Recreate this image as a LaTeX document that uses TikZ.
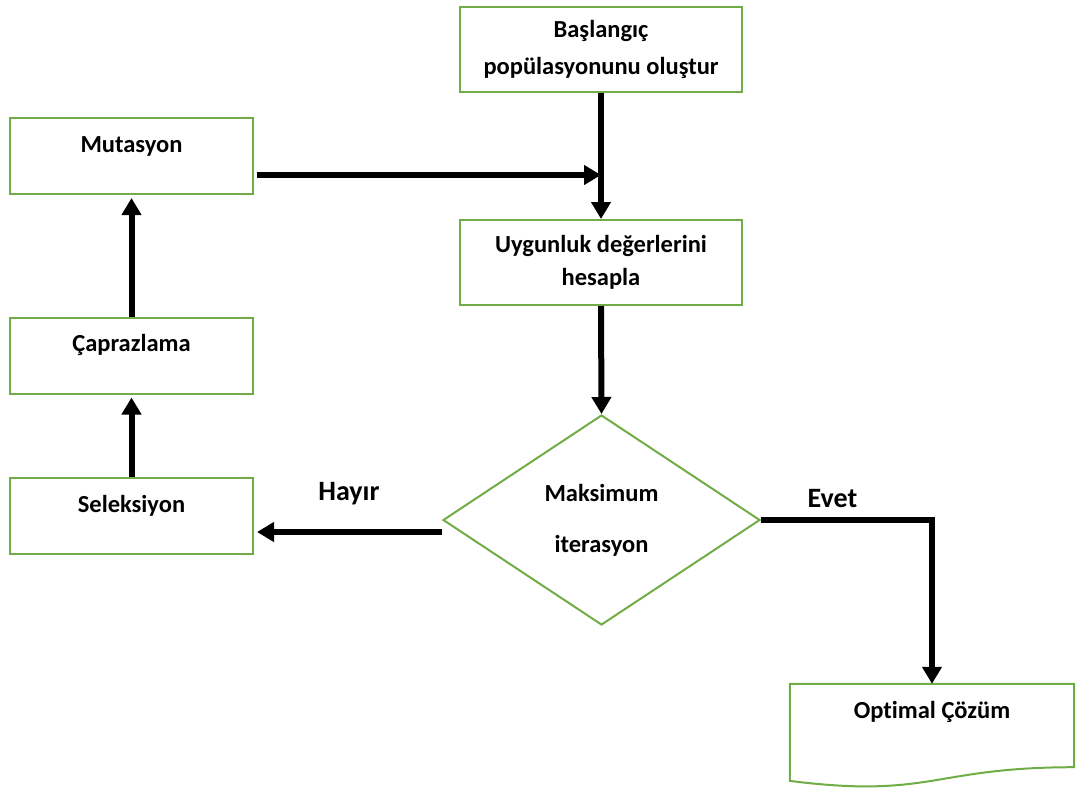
\documentclass[tikz,border=0pt]{standalone}
\usepackage{fontspec}
\setmainfont{Carlito}[Ligatures=NoCommon]
\usetikzlibrary{shapes.geometric,arrows.meta,calc}
\definecolor{boxgreen}{HTML}{70AD47}
\tikzset{
  box/.style={draw=boxgreen, line width=2pt, inner sep=0pt, align=center,
    font=\bfseries\fontsize{24.5}{35}\selectfont},
  onebox/.style={box, minimum width=243pt, text height=34pt, text depth=42pt},
  twobox/.style={box, minimum width=282pt, minimum height=85pt},
  decision/.style={box, diamond, aspect=1.51, minimum width=317pt, minimum height=210pt},
  flow/.style={line width=6pt, -{Triangle[length=17pt,width=19pt]}},
  answer/.style={inner sep=0pt, font=\bfseries\fontsize{28}{34}\selectfont},
}
\begin{document}
\begin{tikzpicture}[x=1pt,y=-1pt]
  \useasboundingbox (0,0) rectangle (1076,788);

  % process boxes
  \node[twobox] (bas) at (601,49.5) {Başlangıç\\[2pt]popülasyonunu oluştur};
  \node[twobox] (uyg) at (601,262.5) {Uygunluk değerlerini\\[-2pt]hesapla};
  \node[onebox] (mut) at (131.5,156) {Mutasyon};
  \node[onebox] (cap) at (131.5,355.5) {Çaprazlama};
  \node[onebox] (sel) at (131.5,516) {Seleksiyon};

  % decision
  \node[decision] (dia) at (601.5,520) {Maksimum\\[16pt]iterasyon};

  % result document with wavy lower edge
  \node[inner sep=0pt, minimum width=284pt, text height=34pt, text depth=49pt,
        font=\bfseries\fontsize{24.5}{35}\selectfont] (opt) at (932,725.5) {Optimal Çözüm};
  \draw[draw=boxgreen, line width=2pt]
    ($(opt.south west)+(0,13.7)$) -- (opt.north west) -- (opt.north east)
    -- (opt.south east)
    .. controls (opt.south) and ($(opt.south)+(0,31.6)$) .. ($(opt.south west)+(0,13.7)$)
    -- cycle;

  % connectors
  \draw[flow] (bas.south) -- (uyg.north);
  \coordinate (mutout) at ($(mut.east)+(3,19)$);
  \draw[flow] (mutout) -- (mutout -| bas.south);
  \draw[flow] (uyg.south) -- (dia.north);
  \coordinate (noout) at ($(dia.west)+(0,12)$);
  \draw[flow, shorten >=3pt] (noout) -- (noout -| sel.east);
  \coordinate (yescorner) at (opt.north |- dia.east);
  \draw[flow] (dia.east) -- (yescorner) -- (opt.north);
  \draw[flow, shorten >=3pt] (sel.north) -- (cap.south);
  \draw[flow, shorten >=3pt] (cap.north) -- (mut.south);

  % branch labels
  \node[answer] (hay) at (349,494) {Hayır};
  \node[answer] (evet) at (832.5,499) {Evet};
\end{tikzpicture}
\end{document}
